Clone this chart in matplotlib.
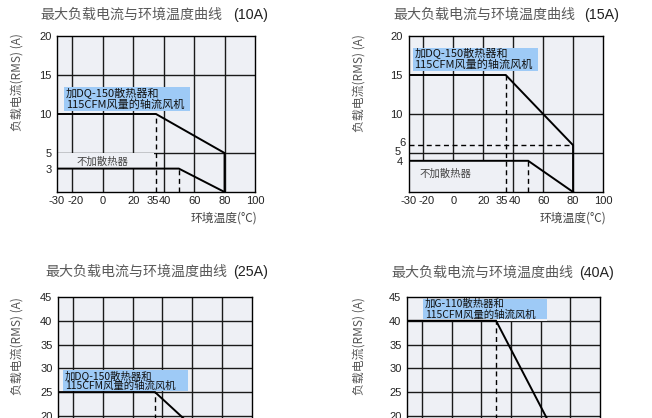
import matplotlib
matplotlib.use("Agg")
import matplotlib.pyplot as plt
from matplotlib.patches import Rectangle

plt.rcParams['font.family'] = ['Liberation Sans', 'Noto Sans CJK SC', 'DejaVu Sans']
plt.rcParams['axes.unicode_minus'] = False
CJK = ['Noto Sans CJK SC', 'DejaVu Sans']

W, H = 652, 418
BG = '#eef0f5'
BOX = '#9ecaf6'

# ---------------- data ----------------
title_main = '最大负载电流与环境温度曲线'
title_tags = ['(10A)', '(15A)', '(25A)', '(40A)']
ylabel_text = '负载电流(RMS) (A)'
xlabel_text = '环境温度(°C)'
box_texts = ['加DQ-150散热器和\n115CFM风量的轴流风机', '加DQ-150散热器和\n115CFM风量的轴流风机',
             '加DQ-150散热器和\n115CFM风量的轴流风机', '加G-110散热器和\n115CFM风量的轴流风机']
nohs_label = '不加散热器'

xticks_all = [-30, -20, 0, 20, 35, 40, 60, 80, 100]
xtick_labels = ['-30', '-20', '0', '20', '35', '40', '60', '80', '100']

# 10A
t10_hs = [-30, 35, 80, 80]
i10_hs = [10, 10, 5, 0]
t10_no = [-30, 50, 80]
i10_no = [3, 3, 0]
yt10 = [3, 5, 10, 15, 20]
# 15A
t15_hs = [-30, 35, 80, 80]
i15_hs = [15, 15, 6, 0]
t15_no = [-30, 50, 80]
i15_no = [4, 4, 0]
yt15 = [4, 10, 15, 20]
# 25A
t25_hs = [-30, 35, 80]
i25_hs = [25, 25, 12]
yt25 = [20, 25, 30, 35, 40, 45]
# 40A
t40_hs = [-30, 30, 80]
i40_hs = [40, 40, 10]
yt40 = [20, 25, 30, 35, 40, 45]

fig = plt.figure(figsize=(W / 100, H / 100), dpi=100)
fig.patch.set_facecolor('white')


def ax_at(l, t, r, b):
    return fig.add_axes([l / W, 1 - b / H, (r - l) / W, (b - t) / H])


# small horizontal nudges (pixels) so crowded labels sit like the original
XNUDGE = {'-20': 3, '35': -3.5, '40': 1.5}


def style(ax, ymax, yticks, xlabels=True):
    ax.set_xlim(-30, 100)
    ax.set_ylim(0, ymax)
    ax.set_facecolor(BG)
    ax.set_xticks(xticks_all)
    ax.set_xticklabels([])
    ax.set_yticks(yticks)
    ax.tick_params(length=0, pad=4, labelsize=8, colors='#222222')
    for s in ax.spines.values():
        s.set_linewidth(1.0)
        s.set_color('black')
        s.set_zorder(5)
    if xlabels:
        for x, lab in zip(xticks_all, xtick_labels):
            ax.annotate(lab, xy=(x, 0), xycoords=('data', 'axes fraction'),
                        xytext=(XNUDGE.get(lab, 0), -4), textcoords='offset pixels',
                        ha='center', va='top', fontsize=8, color='#222222',
                        annotation_clip=False)


def vgrid(ax, xs, y0, y1):
    for x in xs:
        ax.plot([x, x], [y0, y1], color='#1a1a1a', lw=1.0, zorder=0.5)


def hgrid(ax, ys, x0=-30, x1=100):
    for y in ys:
        ax.plot([x0, x1], [y, y], color='#1a1a1a', lw=1.0, zorder=0.5)


def curve(ax, xs, ys):
    ax.plot(xs, ys, color='black', lw=1.4, zorder=3, solid_joinstyle='miter')


DASH = (0, (3.6, 2.6))


def dash(ax, xs, ys):
    ax.plot(xs, ys, color='black', lw=1.0, ls=DASH, zorder=3)


def cover(ax, x0, y0, x1, y1):
    ax.add_patch(Rectangle((x0, y0), x1 - x0, y1 - y0, facecolor=BG, edgecolor='none', zorder=1))


def infobox(ax, x0, y0, x1, y1, text, fs):
    ax.add_patch(Rectangle((x0, y0), x1 - x0, y1 - y0, facecolor=BOX, edgecolor='none', zorder=2))
    ax.text(x0 + 1.2, (y0 + y1) / 2, text, family=CJK, fontsize=fs, color='#111111',
            ha='left', va='center', linespacing=1.0, zorder=4)


def labels(tag, cn_right, tag_left, ty, yl_x, yl_top, xl_right=None, xl_y=None):
    fig.text(cn_right / W, 1 - ty / H, title_main, family=CJK, fontsize=10.1, color='#5a5a5a',
             ha='right', va='center')
    fig.text(tag_left / W, 1 - ty / H, tag, fontsize=10.3, color='#222222',
             ha='left', va='center')
    fig.text(yl_x / W, 1 - yl_top / H, ylabel_text, family=CJK, fontsize=8.6, color='#555555',
             rotation=90, ha='center', va='top')
    if xl_right is not None:
        fig.text(xl_right / W, 1 - xl_y / H, xlabel_text, family=CJK, fontsize=8.5,
                 color='#444444', ha='right', va='center')


# ---------- 10A ----------
ax1 = ax_at(57, 36, 255, 192)
style(ax1, 20, yt10)
vgrid(ax1, [-20, 0, 20, 40, 60, 80], 0, 20)
hgrid(ax1, [15, 5])
cover(ax1, -30, 3, 34, 5)
curve(ax1, t10_hs, i10_hs)
curve(ax1, t10_no, i10_no)
dash(ax1, [35, 35], [0, 10])
dash(ax1, [50, 50], [0, 3])
infobox(ax1, -25.2, 10.4, 57.3, 13.4, box_texts[0], 8)
ax1.text(0, 3.9, nohs_label, family=CJK, fontsize=7.5, color='#444444', ha='center', va='center', zorder=4)
labels(title_tags[0], 222, 233, 15, 17, 33, 257, 218)

# ---------- 15A ----------
ax2 = ax_at(408.5, 36, 603, 192)
style(ax2, 20, yt15)
vgrid(ax2, [-20, 0, 20, 40, 60, 80], 0, 20)
hgrid(ax2, [10, 5])
cover(ax2, -30, 0, 34, 4)
dash(ax2, [-30, 80], [6, 6])
curve(ax2, t15_hs, i15_hs)
curve(ax2, t15_no, i15_no)
dash(ax2, [35, 35], [0, 15])
dash(ax2, [50, 50], [0, 4])
infobox(ax2, -27.2, 15.55, 56.6, 18.5, box_texts[1], 8)
ax2.text(-5, 2.4, nohs_label, family=CJK, fontsize=7.5, color='#444444', ha='center', va='center', zorder=4)
ax2.annotate('6', xy=(-30, 6), xytext=(-3, 2), textcoords='offset pixels', ha='right', va='center',
             fontsize=8, color='#222222', annotation_clip=False)
ax2.annotate('5', xy=(-30, 5), xytext=(-8, 1), textcoords='offset pixels', ha='right', va='center',
             fontsize=8, color='#222222', annotation_clip=False)
labels(title_tags[1], 575, 584, 15, 359, 34, 606, 218)

# ---------- 25A ----------
ax3 = ax_at(58, 297, 252, 511)
style(ax3, 45, yt25, xlabels=False)
vgrid(ax3, [-20, 0, 20, 40, 60, 80], 0, 45)
hgrid(ax3, [5, 10, 15, 20, 25, 30, 35, 40])
curve(ax3, t25_hs, i25_hs)
dash(ax3, [35, 35], [0, 25])
infobox(ax3, -26.6, 25.2, 57, 29.6, box_texts[2], 7.5)
labels(title_tags[2], 227, 233, 272, 17, 297)

# ---------- 40A ----------
ax4 = ax_at(407, 297, 600, 511)
style(ax4, 45, yt40, xlabels=False)
vgrid(ax4, [-20, 0, 20, 40, 60, 80], 0, 45)
hgrid(ax4, [5, 10, 15, 20, 25, 30, 35, 40])
cover(ax4, -30, 40, 64, 45)
curve(ax4, t40_hs, i40_hs)
dash(ax4, [30, 30], [0, 40])
infobox(ax4, -19, 40.4, 64, 44.5, box_texts[3], 7.5)
labels(title_tags[3], 573, 579, 273, 359, 297)

fig.savefig('out.png', dpi=100)
